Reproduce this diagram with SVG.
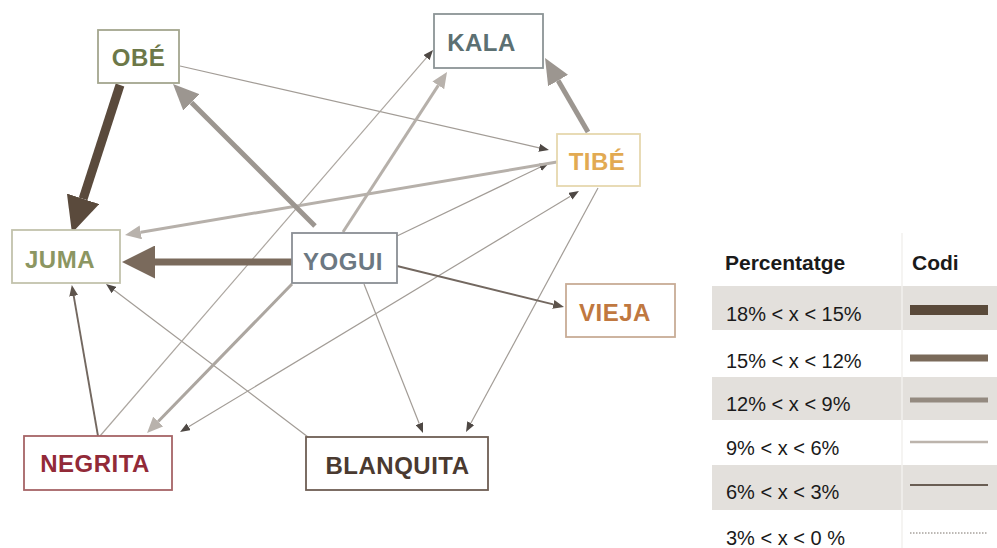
<svg xmlns="http://www.w3.org/2000/svg" width="997" height="548" viewBox="0 0 997 548">
<style>
  .box{fill:#ffffff;stroke-width:1.8}
  .lbl{font-family:"Liberation Sans",Arial,sans-serif;font-weight:bold;font-size:24px;letter-spacing:0.5px;text-anchor:middle}
  .e{fill:none;stroke-linecap:butt}
  .e18{stroke:#5a4a3c;stroke-width:9}
  .e15{stroke:#7a6a5c;stroke-width:7}
  .e12{stroke:#9c9690;stroke-width:5}
  .e9{stroke:#b6b0aa;stroke-width:3}
  .e6{stroke:#736860;stroke-width:1.9}
  .e3{stroke:#a29c96;stroke-width:1.2}
  .lh{font-family:"Liberation Sans",Arial,sans-serif;font-weight:bold;font-size:21px;fill:#1a1a1a}
  .lt{font-family:"Liberation Sans",Arial,sans-serif;font-size:20px;fill:#1a1a1a}
  .shade{fill:#e3e0dc}
</style>
<defs>
  <marker id="ah18" markerUnits="userSpaceOnUse" markerWidth="36" markerHeight="34" viewBox="0 0 36 34" refX="0" refY="17" orient="auto"><path d="M0,0 L36,17 L0,34 z" fill="#5a4a3c"/></marker>
  <marker id="ah15" markerUnits="userSpaceOnUse" markerWidth="33" markerHeight="33" viewBox="0 0 33 33" refX="0" refY="16.5" orient="auto"><path d="M0,0 L33,16.5 L0,33 z" fill="#7a6a5c"/></marker>
  <marker id="ah12" markerUnits="userSpaceOnUse" markerWidth="26" markerHeight="23" viewBox="0 0 26 23" refX="0" refY="11.5" orient="auto"><path d="M0,0 L26,11.5 L0,23 z" fill="#9c9690"/></marker>
  <marker id="ah9" markerUnits="userSpaceOnUse" markerWidth="16" markerHeight="14" viewBox="0 0 16 14" refX="0" refY="7" orient="auto"><path d="M0,0 L16,7 L0,14 z" fill="#b8b2ac"/></marker>
  <marker id="ahs" markerUnits="userSpaceOnUse" markerWidth="10" markerHeight="8" viewBox="0 0 10 8" refX="0" refY="4" orient="auto-start-reverse"><path d="M0,0 L10,4 L0,8 z" fill="#4e4844"/></marker>
  <marker id="ah6" markerUnits="userSpaceOnUse" markerWidth="11" markerHeight="9" viewBox="0 0 11 9" refX="0" refY="4.5" orient="auto"><path d="M0,0 L11,4.5 L0,9 z" fill="#5e544c"/></marker>
</defs>
<rect x="0" y="0" width="997" height="548" fill="#ffffff"/>

<g id="connectors">
  <!-- thin 3% -->
  <path class="e e3" d="M180,66 L539.2,147.8" marker-end="url(#ahs)"/>
  <path class="e e3" d="M397,236 L540,167.3" marker-end="url(#ahs)"/>
  <path class="e e3" d="M188.6,426.8 L570.4,196.2" marker-start="url(#ahs)" marker-end="url(#ahs)"/>
  <path class="e e3" d="M598,188 L470.8,423.2" marker-end="url(#ahs)"/>
  <path class="e e3" d="M364,284 L419.3,423.7" marker-end="url(#ahs)"/>
  <path class="e e3" d="M308,437 L114,290" marker-end="url(#ahs)"/>
  <path class="e e3" style="stroke:#aca6a0" d="M100,436 L426.5,57.6" marker-end="url(#ahs)"/>
  <!-- 6% -->
  <path class="e e6" d="M98,436 L73.7,295.9" marker-end="url(#ah6)"/>
  <path class="e e6" d="M397,266 L553.3,304.4" marker-end="url(#ah6)"/>
  <!-- 9% -->
  <path class="e e9" d="M557,162 L140.8,232.3" marker-end="url(#ah9)"/>
  <path class="e e9" d="M343,232 L438.3,85.4" marker-end="url(#ah9)"/>
  <path class="e e9" style="stroke:#aca6a0" d="M292,284 L158.2,421.5" marker-end="url(#ah9)"/>
  <!-- 12% -->
  <path class="e e12" d="M315,226 L191.4,102.4" marker-end="url(#ah12)"/>
  <path class="e e12" d="M588,132 L558.1,80.5" marker-end="url(#ah12)"/>
  <!-- 15% -->
  <path class="e e15" d="M292,262 L155,262" marker-end="url(#ah15)"/>
  <!-- 18% -->
  <path class="e e18" d="M120,85 L83.1,198.8" marker-end="url(#ah18)"/>
</g>

<g id="node-obe">
  <rect class="box" x="98" y="30" width="81" height="53" stroke="#a4a68e"/>
  <text class="lbl" x="138.5" y="66" fill="#6c7848">OBÉ</text>
</g>
<g id="node-kala">
  <rect class="box" x="434" y="14" width="109" height="54" stroke="#8c9496"/>
  <text class="lbl" x="481.5" y="51" fill="#5c7072">KALA</text>
</g>
<g id="node-tibe">
  <rect class="box" x="557" y="134" width="83" height="52" stroke="#e6d8ae"/>
  <text class="lbl" x="597" y="170" fill="#e2aa52">TIBÉ</text>
</g>
<g id="node-juma">
  <rect class="box" x="12" y="230" width="108" height="53" stroke="#c2c2ac"/>
  <text class="lbl" x="60" y="268" fill="#8c9662">JUMA</text>
</g>
<g id="node-yogui">
  <rect class="box" x="292" y="233" width="105" height="50" stroke="#8a8e94"/>
  <text class="lbl" x="343" y="270" fill="#6c7882">YOGUI</text>
</g>
<g id="node-vieja">
  <rect class="box" x="566" y="284" width="109" height="53" stroke="#c8ac96"/>
  <text class="lbl" x="615" y="321" fill="#c07840">VIEJA</text>
</g>
<g id="node-negrita">
  <rect class="box" x="24" y="436" width="148" height="54" stroke="#a66466"/>
  <text class="lbl" x="95" y="472" fill="#922a38">NEGRITA</text>
</g>
<g id="node-blanquita">
  <rect class="box" x="306" y="437" width="182" height="53" stroke="#6e5e54"/>
  <text class="lbl" x="397.5" y="474" fill="#4a3a30">BLANQUITA</text>
</g>

<g id="legend">
  <rect class="shade" x="712" y="286" width="285" height="44"/>
  <rect class="shade" x="712" y="377" width="285" height="43"/>
  <rect class="shade" x="712" y="465" width="285" height="45"/>
  <line x1="902" y1="233" x2="902" y2="548" stroke="#f2f0ee" stroke-width="1.5"/>
  <text class="lh" x="725" y="270">Percentatge</text>
  <text class="lh" x="912" y="270">Codi</text>
  <text class="lt" x="726" y="321">18% &lt; x &lt; 15%</text>
  <text class="lt" x="726" y="368">15% &lt; x &lt; 12%</text>
  <text class="lt" x="726" y="411">12% &lt; x &lt; 9%</text>
  <text class="lt" x="726" y="455">9% &lt; x &lt; 6%</text>
  <text class="lt" x="726" y="499">6% &lt; x &lt; 3%</text>
  <text class="lt" x="726" y="545">3% &lt; x &lt; 0 %</text>
  <line x1="910" y1="310" x2="988" y2="310" stroke="#5a4a3a" stroke-width="10"/>
  <line x1="910" y1="358" x2="988" y2="358" stroke="#7a6a5a" stroke-width="7"/>
  <line x1="910" y1="400" x2="988" y2="400" stroke="#948a80" stroke-width="5"/>
  <line x1="910" y1="442" x2="988" y2="442" stroke="#bcb4ac" stroke-width="2.5"/>
  <line x1="910" y1="485" x2="988" y2="485" stroke="#6a5e54" stroke-width="2"/>
  <line x1="910" y1="533" x2="988" y2="533" stroke="#7a726a" stroke-width="1" stroke-dasharray="1.5 1.5"/>
</g>
</svg>
